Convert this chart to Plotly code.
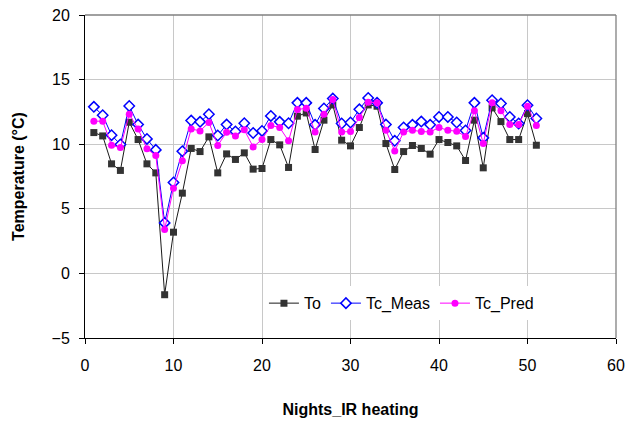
import plotly.graph_objects as go

nights = list(range(1, 52))
to_vals = [10.9, 10.64, 8.48, 7.97, 11.7, 10.36, 8.48, 7.78, -1.65, 3.19,
           6.21, 9.67, 9.43, 10.57, 7.78, 9.25, 8.82, 9.33, 8.07, 8.12,
           10.36, 9.95, 8.2, 12.17, 12.42, 9.59, 11.86, 13.04, 10.31, 9.87,
           11.29, 13.04, 12.94, 10.05, 8.04, 9.43, 9.9, 9.67, 9.23, 10.36,
           10.13, 9.87, 8.74, 11.86, 8.17, 12.81, 11.75, 10.36, 10.36, 12.37, 9.92]
tc_meas = [12.89, 12.24, 10.7, 9.98, 12.96, 11.52, 10.41, 9.56, 3.91, 7.04,
           9.46, 11.83, 11.73, 12.32, 10.67, 11.52, 10.98, 11.62, 10.87, 11.03,
           12.19, 11.73, 11.62, 13.2, 13.2, 11.5, 12.76, 13.53, 11.6, 11.68,
           12.7, 13.58, 13.2, 11.52, 10.26, 11.29, 11.5, 11.75, 11.5, 12.11,
           12.11, 11.68, 11.06, 13.2, 10.49, 13.4, 13.15, 12.11, 11.6, 13.02, 11.99]
tc_pred = [11.78, 11.78, 9.92, 9.74, 12.32, 11.18, 9.64, 9.12, 3.4, 6.6,
           8.71, 11.18, 11.03, 11.68, 9.9, 10.93, 10.64, 11.11, 9.79, 10.36,
           11.45, 11.29, 10.26, 12.68, 12.78, 10.95, 12.32, 13.46, 10.95, 10.98,
           12.06, 13.25, 13.2, 11.08, 9.48, 10.95, 11.08, 10.98, 10.95, 11.29,
           11.08, 11.0, 10.6, 12.58, 10.05, 13.2, 12.58, 11.52, 11.52, 12.94, 11.45]

FONT = "Liberation Sans, Arial, Helvetica, sans-serif"

fig = go.Figure()
fig.add_trace(go.Scatter(
    x=nights, y=to_vals, name="To", mode="lines+markers",
    line=dict(color="#1a1a1a", width=1),
    marker=dict(symbol="square", size=7, color="#333333", line=dict(width=0)),
))
fig.add_trace(go.Scatter(
    x=nights, y=tc_meas, name="Tc_Meas", mode="lines+markers",
    line=dict(color="#0000ff", width=1),
    marker=dict(symbol="diamond", size=8, color="white", line=dict(color="#0000ff", width=1.5)),
))
fig.add_trace(go.Scatter(
    x=nights, y=tc_pred, name="Tc_Pred", mode="lines+markers",
    line=dict(color="#ff00ff", width=1),
    marker=dict(symbol="circle", size=7, color="#ff00ff", line=dict(width=0)),
))

# gray frame on top and right of plot area
fig.add_shape(type="line", xref="paper", yref="paper", x0=0, x1=1, y0=1, y1=1,
              line=dict(color="#808080", width=1.3), layer="above")
fig.add_shape(type="line", xref="paper", yref="paper", x0=1, x1=1, y0=0, y1=1,
              line=dict(color="#808080", width=1.3), layer="above")

fig.update_layout(
    width=626, height=421,
    margin=dict(l=85, r=10, t=15, b=83, autoexpand=False),
    paper_bgcolor="white", plot_bgcolor="white",
    font=dict(family=FONT, size=16, color="black"),
    showlegend=True,
    legend=dict(
        orientation="h", x=0.337, y=0.055, xanchor="left", yanchor="bottom",
        bgcolor="white", borderwidth=0, font=dict(size=16),
        itemwidth=30, tracegroupgap=0,
    ),
    xaxis=dict(
        range=[0, 60], tickmode="array", tickvals=[0, 10, 20, 30, 40, 50, 60],
        showgrid=True, gridcolor="#c8c8c8", gridwidth=1,
        showline=True, linecolor="black", linewidth=1,
        ticks="outside", ticklen=5, tickcolor="black",
        zeroline=False, ticklabelstandoff=8, ticklabeloverflow="allow",
        title=dict(text="<b>Nights_IR heating</b>", standoff=30, font=dict(size=16)),
    ),
    yaxis=dict(
        range=[-5, 20], tickmode="array", tickvals=[-5, 0, 5, 10, 15, 20],
        ticktext=["\u22125", "0", "5", "10", "15", "20"],
        showgrid=True, gridcolor="#c8c8c8", gridwidth=1,
        showline=True, linecolor="black", linewidth=1,
        ticks="outside", ticklen=5, tickcolor="black",
        zeroline=False, ticklabelstandoff=6, ticklabeloverflow="allow",
        title=dict(text="<b>Temperature (°C)</b>", standoff=22, font=dict(size=16)),
    ),
)

fig.write_html("out.html")
